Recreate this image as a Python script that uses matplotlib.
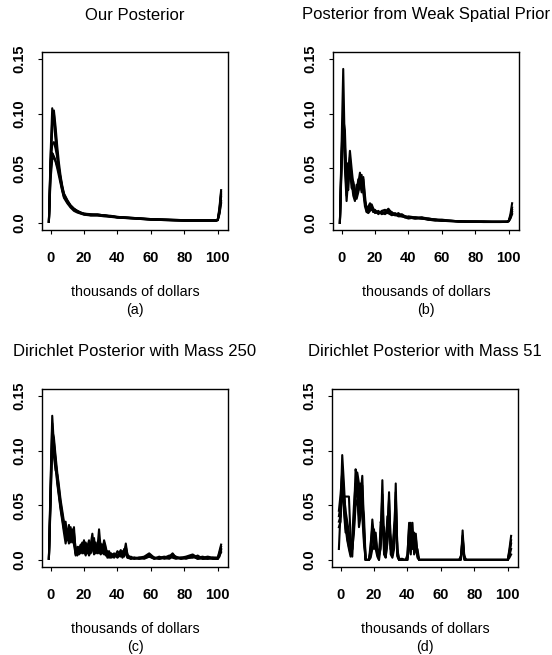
import matplotlib
matplotlib.use("Agg")
import matplotlib.pyplot as plt

plt.rcParams['font.family'] = ['Liberation Sans', 'DejaVu Sans']

# ---- panel (a): Our Posterior ----
xa = [-1, 0, 1, 2, 3, 4, 5, 6, 7, 8, 10, 12, 14, 16, 18, 20, 24, 28, 32, 36,
      40, 50, 60, 70, 80, 90, 99, 100, 101, 102]
a1 = [0.001, 0.062, 0.105, 0.092, 0.076, 0.062, 0.050, 0.040, 0.032, 0.026,
      0.020, 0.016, 0.013, 0.011, 0.0095, 0.0085, 0.0075, 0.0075, 0.007, 0.006,
      0.0055, 0.0045, 0.0035, 0.003, 0.0025, 0.0025, 0.0025, 0.003, 0.014, 0.030]
a2 = [0.001, 0.050, 0.088, 0.103, 0.088, 0.070, 0.055, 0.043, 0.034, 0.027,
      0.021, 0.016, 0.013, 0.011, 0.0095, 0.0085, 0.008, 0.0075, 0.007, 0.0065,
      0.0055, 0.0045, 0.0035, 0.003, 0.0025, 0.0025, 0.0025, 0.003, 0.010, 0.024]
a3 = [0.001, 0.045, 0.064, 0.061, 0.057, 0.052, 0.046, 0.039, 0.031, 0.025,
      0.019, 0.015, 0.012, 0.010, 0.009, 0.008, 0.007, 0.007, 0.0065, 0.006,
      0.005, 0.004, 0.003, 0.0025, 0.002, 0.002, 0.002, 0.0025, 0.009, 0.020]
a4 = [0.001, 0.040, 0.058, 0.060, 0.056, 0.050, 0.043, 0.036, 0.029, 0.023,
      0.018, 0.014, 0.011, 0.0095, 0.0085, 0.0075, 0.0068, 0.0068, 0.006, 0.0055,
      0.0048, 0.004, 0.003, 0.0025, 0.002, 0.002, 0.002, 0.0025, 0.008, 0.018]
a5 = [0.001, 0.055, 0.072, 0.074, 0.068, 0.060, 0.050, 0.041, 0.033, 0.026,
      0.020, 0.015, 0.0125, 0.0105, 0.009, 0.008, 0.0072, 0.0072, 0.0066, 0.006,
      0.0052, 0.0042, 0.0032, 0.0027, 0.0022, 0.0022, 0.0022, 0.0028, 0.011, 0.026]
a6 = [0.001, 0.058, 0.094, 0.100, 0.082, 0.064, 0.048, 0.038, 0.030, 0.024,
      0.019, 0.015, 0.012, 0.0105, 0.009, 0.008, 0.0074, 0.0078, 0.0068, 0.006,
      0.0052, 0.0043, 0.0033, 0.0028, 0.0023, 0.0023, 0.0023, 0.003, 0.012, 0.028]

# ---- panel (b): Posterior from Weak Spatial Prior ----
xb = [-1, 0, 1, 2, 3, 4, 5, 6, 7, 8, 9, 10, 11, 12, 13, 14, 15, 16, 17, 18, 19, 20,
      22, 24, 26, 28, 30, 32, 34, 36, 38, 40,
      44, 48, 52, 56, 60,
      65, 70, 75, 80, 85, 90, 95,
      99, 100, 101, 102]
b1 = [0, 0.07, 0.141, 0.06, 0.025, 0.045, 0.066, 0.05, 0.035, 0.028, 0.03, 0.036,
      0.046, 0.03, 0.04, 0.02, 0.012, 0.013, 0.016, 0.017, 0.013, 0.011,
      0.010, 0.009, 0.010, 0.013, 0.009, 0.008, 0.008, 0.007, 0.006, 0.005,
      0.005, 0.005, 0.004, 0.003, 0.003,
      0.002, 0.0015, 0.0015, 0.0015, 0.0015, 0.0012, 0.0012,
      0.0012, 0.002, 0.008, 0.018]
b2 = [0, 0.06, 0.095, 0.085, 0.035, 0.03, 0.055, 0.045, 0.03, 0.022, 0.028, 0.04,
      0.033, 0.044, 0.028, 0.015, 0.01, 0.012, 0.014, 0.012, 0.011, 0.010,
      0.009, 0.010, 0.008, 0.011, 0.010, 0.007, 0.009, 0.006, 0.006, 0.005,
      0.004, 0.005, 0.003, 0.003, 0.002,
      0.002, 0.0015, 0.001, 0.001, 0.001, 0.001, 0.001,
      0.001, 0.002, 0.005, 0.010]
b3 = [0, 0.05, 0.088, 0.07, 0.04, 0.05, 0.048, 0.04, 0.038, 0.03, 0.025, 0.03,
      0.042, 0.036, 0.033, 0.018, 0.013, 0.011, 0.012, 0.015, 0.012, 0.009,
      0.011, 0.008, 0.009, 0.009, 0.008, 0.009, 0.007, 0.007, 0.005, 0.006,
      0.005, 0.004, 0.004, 0.003, 0.002,
      0.0018, 0.0015, 0.0012, 0.0012, 0.001, 0.001, 0.001,
      0.001, 0.0015, 0.004, 0.008]
b4 = [0, 0.065, 0.1, 0.05, 0.02, 0.04, 0.06, 0.038, 0.025, 0.02, 0.035, 0.03,
      0.038, 0.028, 0.042, 0.025, 0.01, 0.009, 0.011, 0.013, 0.01, 0.012,
      0.008, 0.011, 0.012, 0.009, 0.007, 0.008, 0.006, 0.006, 0.005, 0.004,
      0.005, 0.004, 0.003, 0.002, 0.002,
      0.0015, 0.001, 0.001, 0.001, 0.0008, 0.0008, 0.0008,
      0.001, 0.002, 0.006, 0.014]
b5 = [0, 0.055, 0.092, 0.065, 0.03, 0.055, 0.05, 0.032, 0.03, 0.026, 0.022, 0.028,
      0.036, 0.04, 0.03, 0.02, 0.014, 0.015, 0.018, 0.014, 0.01, 0.01,
      0.009, 0.01, 0.009, 0.012, 0.008, 0.007, 0.007, 0.008, 0.006, 0.005,
      0.004, 0.004, 0.003, 0.003, 0.0025,
      0.002, 0.0015, 0.0012, 0.001, 0.001, 0.001, 0.001,
      0.001, 0.0015, 0.005, 0.012]

# ---- panel (c): Dirichlet Posterior with Mass 250 ----
xc = (list(range(-1, 37))
      + [38, 40, 42, 43, 44, 45, 46, 48, 50]
      + [53, 56, 59, 62, 65, 68, 71, 73, 75, 78, 81, 85, 88, 91, 94, 97, 100, 101, 102])
c1 = [0.001, 0.070, 0.132, 0.105, 0.090, 0.075, 0.062, 0.050, 0.040, 0.030,
      0.022, 0.028, 0.018, 0.025, 0.020, 0.030, 0.006, 0.010, 0.008, 0.012,
      0.016, 0.009, 0.012, 0.006, 0.010, 0.014, 0.024, 0.008, 0.012, 0.010,
      0.028, 0.010, 0.006, 0.018, 0.012, 0.004, 0.003, 0.006,
      0.004, 0.005, 0.003, 0.008, 0.006, 0.015, 0.004, 0.002, 0.002,
      0.002, 0.003, 0.006, 0.002, 0.002, 0.002, 0.003, 0.006, 0.002, 0.002,
      0.003, 0.005, 0.002, 0.001, 0.001, 0.002, 0.002, 0.008, 0.014]
c2 = [0.001, 0.060, 0.118, 0.112, 0.095, 0.080, 0.068, 0.055, 0.045, 0.035,
      0.025, 0.018, 0.030, 0.020, 0.028, 0.022, 0.004, 0.008, 0.012, 0.006,
      0.010, 0.014, 0.008, 0.012, 0.018, 0.006, 0.010, 0.020, 0.007, 0.012,
      0.008, 0.015, 0.010, 0.005, 0.008, 0.002, 0.004, 0.003,
      0.006, 0.003, 0.007, 0.004, 0.010, 0.006, 0.002, 0.001, 0.002,
      0.001, 0.002, 0.004, 0.001, 0.002, 0.003, 0.002, 0.004, 0.003, 0.001,
      0.002, 0.003, 0.001, 0.002, 0.002, 0.001, 0.001, 0.005, 0.010]
c3 = [0.001, 0.055, 0.108, 0.100, 0.085, 0.070, 0.058, 0.046, 0.036, 0.025,
      0.015, 0.024, 0.032, 0.016, 0.022, 0.018, 0.008, 0.004, 0.010, 0.014,
      0.006, 0.018, 0.005, 0.008, 0.006, 0.012, 0.016, 0.005, 0.009, 0.014,
      0.006, 0.012, 0.014, 0.006, 0.010, 0.005, 0.002, 0.006,
      0.002, 0.008, 0.004, 0.003, 0.008, 0.010, 0.003, 0.002, 0.001,
      0.002, 0.001, 0.003, 0.002, 0.001, 0.002, 0.004, 0.002, 0.001, 0.002,
      0.002, 0.002, 0.004, 0.001, 0.002, 0.001, 0.001, 0.004, 0.007]
c4 = [0.001, 0.065, 0.125, 0.095, 0.082, 0.078, 0.065, 0.052, 0.042, 0.032,
      0.028, 0.020, 0.022, 0.030, 0.016, 0.025, 0.010, 0.006, 0.005, 0.009,
      0.012, 0.006, 0.016, 0.010, 0.004, 0.008, 0.020, 0.012, 0.006, 0.008,
      0.018, 0.008, 0.010, 0.016, 0.006, 0.008, 0.004, 0.002,
      0.003, 0.004, 0.009, 0.002, 0.005, 0.012, 0.005, 0.001, 0.002,
      0.001, 0.002, 0.003, 0.001, 0.003, 0.001, 0.002, 0.005, 0.002, 0.001,
      0.002, 0.004, 0.001, 0.002, 0.003, 0.002, 0.002, 0.006, 0.012]
c5 = [0.001, 0.050, 0.112, 0.108, 0.092, 0.072, 0.060, 0.048, 0.038, 0.028,
      0.035, 0.022, 0.015, 0.028, 0.024, 0.014, 0.005, 0.012, 0.006, 0.008,
      0.014, 0.010, 0.004, 0.014, 0.008, 0.010, 0.012, 0.006, 0.016, 0.006,
      0.012, 0.005, 0.008, 0.012, 0.004, 0.006, 0.008, 0.003,
      0.005, 0.002, 0.005, 0.006, 0.003, 0.008, 0.002, 0.003, 0.001,
      0.002, 0.002, 0.005, 0.002, 0.001, 0.002, 0.001, 0.003, 0.002, 0.002,
      0.001, 0.003, 0.002, 0.003, 0.001, 0.002, 0.001, 0.003, 0.009]

# ---- panel (d): Dirichlet Posterior with Mass 51 ----
xd = list(range(-1, 49)) + [55, 65, 71, 72, 73, 74, 75, 85, 99, 100, 101, 102]
d1 = [0.010, 0.045, 0.096, 0.070, 0.040, 0.020, 0.012, 0.005, 0.010, 0.040,
      0.083, 0.075, 0.050, 0.060, 0.077, 0.030, 0.000, 0.000, 0.000, 0.010,
      0.037, 0.020, 0.015, 0.006, 0.000, 0.020, 0.073, 0.015, 0.004, 0.025,
      0.062, 0.010, 0.004, 0.015, 0.070, 0.005, 0.000, 0.000, 0.000, 0.000,
      0.000, 0.003, 0.034, 0.015, 0.020, 0.008, 0.024, 0.004, 0.000, 0.000,
      0, 0, 0, 0.000, 0.027, 0.000, 0, 0, 0, 0, 0.010, 0.022]
d2 = [0.040, 0.050, 0.070, 0.058, 0.058, 0.058, 0.058, 0.020, 0.003, 0.035,
      0.060, 0.080, 0.070, 0.045, 0.050, 0.040, 0.000, 0.000, 0.000, 0.005,
      0.020, 0.028, 0.010, 0.003, 0.000, 0.035, 0.030, 0.030, 0.008, 0.040,
      0.030, 0.020, 0.006, 0.030, 0.040, 0.010, 0.000, 0.000, 0.000, 0.000,
      0.000, 0.000, 0.015, 0.034, 0.010, 0.020, 0.010, 0.010, 0.000, 0.000,
      0, 0, 0, 0.003, 0.020, 0.002, 0, 0, 0, 0, 0.006, 0.015]
d3 = [0.035, 0.040, 0.065, 0.050, 0.030, 0.018, 0.010, 0.003, 0.010, 0.025,
      0.050, 0.055, 0.040, 0.070, 0.040, 0.015, 0.000, 0.000, 0.000, 0.002,
      0.010, 0.015, 0.025, 0.008, 0.004, 0.010, 0.050, 0.005, 0.002, 0.020,
      0.045, 0.005, 0.002, 0.010, 0.055, 0.003, 0.000, 0.001, 0.001, 0.000,
      0.000, 0.000, 0.025, 0.005, 0.034, 0.005, 0.015, 0.002, 0.000, 0.000,
      0, 0, 0, 0.002, 0.015, 0.003, 0, 0, 0, 0, 0.004, 0.010]
d4 = [0.045, 0.060, 0.080, 0.045, 0.025, 0.030, 0.020, 0.008, 0.020, 0.050,
      0.070, 0.065, 0.060, 0.055, 0.068, 0.025, 0.000, 0.000, 0.000, 0.015,
      0.030, 0.010, 0.020, 0.005, 0.002, 0.025, 0.060, 0.010, 0.006, 0.030,
      0.055, 0.015, 0.008, 0.020, 0.062, 0.008, 0.000, 0.000, 0.000, 0.000,
      0.000, 0.005, 0.030, 0.020, 0.025, 0.012, 0.020, 0.006, 0.000, 0.000,
      0, 0, 0, 0.004, 0.010, 0.001, 0, 0, 0, 0, 0.002, 0.005]
d5 = [0.030, 0.035, 0.085, 0.060, 0.045, 0.035, 0.025, 0.010, 0.015, 0.030,
      0.065, 0.060, 0.030, 0.040, 0.060, 0.020, 0.000, 0.000, 0.000, 0.008,
      0.025, 0.020, 0.012, 0.010, 0.005, 0.015, 0.040, 0.020, 0.003, 0.015,
      0.035, 0.010, 0.005, 0.025, 0.030, 0.004, 0.000, 0.000, 0.000, 0.000,
      0.000, 0.002, 0.010, 0.025, 0.015, 0.025, 0.008, 0.004, 0.000, 0.000,
      0, 0, 0, 0.001, 0.022, 0.004, 0, 0, 0, 0, 0.008, 0.018]

titles = ["Our Posterior", "Posterior from Weak Spatial Prior",
          "Dirichlet Posterior with Mass 250", "Dirichlet Posterior with Mass 51"]
letters = ["(a)", "(b)", "(c)", "(d)"]
xticks = [0, 20, 40, 60, 80, 100]
yticks = [0.0, 0.05, 0.10, 0.15]
ytick_labels = ["0.0", "0.05", "0.10", "0.15"]

W, H = 552, 655
fig = plt.figure(figsize=(W / 100, H / 100), dpi=100)


def draw_panel(left_px, top_px, x, draws, title, letter):
    # box in pixels -> figure fractions
    ax = fig.add_axes([left_px / W, 1 - (top_px + 178) / H, 186 / W, 178 / H])
    for y in draws:
        ax.plot(x, y, color="black", lw=1.5)
    ax.set_xlim(-5.12, 106.12)
    ax.set_ylim(-0.0065, 0.1565)
    ax.set_xticks(xticks)
    ax.set_yticks(yticks)
    ax.set_yticklabels(ytick_labels)
    for lab in ax.get_yticklabels() + ax.get_xticklabels():
        lab.set_fontweight("bold")
    for lab in ax.get_yticklabels():
        lab.set_rotation(90)
        lab.set_va("center")
    ax.tick_params(direction="out", length=3, width=0.8, labelsize=10.5)
    ax.tick_params(axis="x", pad=12)
    ax.tick_params(axis="y", pad=8)
    for s in ax.spines.values():
        s.set_linewidth(1.0)
    cx = (left_px + 93) / W
    fig.text(cx, 1 - (top_px - 37) / H, title, ha="center", va="center", fontsize=12)
    fig.text(cx, 1 - (top_px + 240) / H, "thousands of dollars", ha="center",
             va="center", fontsize=10.3)
    fig.text(cx, 1 - (top_px + 258) / H, letter, ha="center", va="center", fontsize=10.3)
    return ax


draw_panel(42, 52, xa, [a1, a2, a3, a4, a5, a6], titles[0], letters[0])
draw_panel(333, 52, xb, [b1, b2, b3, b4, b5], titles[1], letters[1])
draw_panel(42, 389, xc, [c1, c2, c3, c4, c5], titles[2], letters[2])
draw_panel(332, 389, xd, [d1, d2, d3, d4, d5], titles[3], letters[3])

fig.savefig("out.png", dpi=100)
